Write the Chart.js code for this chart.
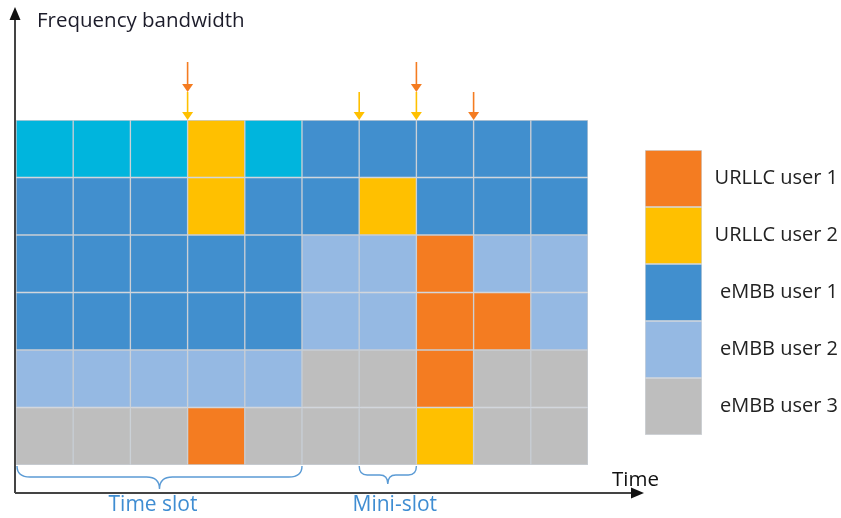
<!DOCTYPE html>
<html>
<head>
<meta charset="utf-8">
<script src="https://cdn.jsdelivr.net/npm/chart.js@4"></script>
<style>
  html, body { margin: 0; padding: 0; background: #fff; }
  #wrap { position: relative; width: 841px; height: 518px; overflow: hidden; }
  #grid { position: absolute; left: 0; top: 0; }
  #legend { position: absolute; left: 645px; top: 150px; }
</style>
</head>
<body>
<div id="wrap">
  <canvas id="grid" width="841" height="518"></canvas>
  <canvas id="legend" width="196" height="285"></canvas>
</div>
<script>
'use strict';

// ---------- data ----------
const columns = ['1', '2', '3', '4', '5', '6', '7', '8', '9', '10'];
// resource grid, top row first ('idle' = not yet assigned)
const row1 = ['idle', 'idle', 'idle', 'U2', 'idle', 'E1', 'E1', 'E1', 'E1', 'E1'];
const row2 = ['E1', 'E1', 'E1', 'U2', 'E1', 'E1', 'U2', 'E1', 'E1', 'E1'];
const row3 = ['E1', 'E1', 'E1', 'E1', 'E1', 'E2', 'E2', 'U1', 'E2', 'E2'];
const row4 = ['E1', 'E1', 'E1', 'E1', 'E1', 'E2', 'E2', 'U1', 'U1', 'E2'];
const row5 = ['E2', 'E2', 'E2', 'E2', 'E2', 'E3', 'E3', 'U1', 'E3', 'E3'];
const row6 = ['E3', 'E3', 'E3', 'U1', 'E3', 'E3', 'E3', 'U2', 'E3', 'E3'];
const rows = [row1, row2, row3, row4, row5, row6];

const userKeys = ['U1', 'U2', 'E1', 'E2', 'E3'];
const userNames = ['URLLC user 1', 'URLLC user 2', 'eMBB user 1', 'eMBB user 2', 'eMBB user 3'];

// arrival arrows at column boundaries
const arrowLowAt = [3, 6, 7, 8];
const arrowLowUser = ['U2', 'U2', 'U2', 'U1'];
const arrowHighAt = [3, 7];
const arrowHighUser = ['U1', 'U1'];

// braces: [first boundary, last boundary, label]
const timeSlot = [0, 5, 'Time slot'];
const miniSlot = [6, 7, 'Mini-slot'];

const COLORS = {
  U1: '#f47c21', U2: '#ffc000', E1: '#418fce', E2: '#95b9e3', E3: '#bebebe', idle: '#00b5dd',
};
const FONT = '"Open Sans", "Noto Sans", sans-serif';
const CELL_BORDER = '#c8ced5';

// ---------- decorations ----------
function arrowDown(ctx, x, y0, y1, color) {
  const hl = 8, hw = 5.5;
  ctx.strokeStyle = color; ctx.fillStyle = color; ctx.lineWidth = 1.6;
  ctx.beginPath(); ctx.moveTo(x, y0); ctx.lineTo(x, y1 - hl + 1); ctx.stroke();
  ctx.beginPath(); ctx.moveTo(x - hw, y1 - hl); ctx.lineTo(x + hw, y1 - hl); ctx.lineTo(x, y1); ctx.closePath(); ctx.fill();
}

function brace(ctx, x0, x1, yTop, mid, tip, r) {
  const xc = (x0 + x1) / 2;
  const ym = yTop + mid, yt = yTop + tip;
  ctx.beginPath();
  ctx.moveTo(x0, yTop);
  ctx.quadraticCurveTo(x0, ym, x0 + r, ym);
  ctx.lineTo(xc - r, ym);
  ctx.quadraticCurveTo(xc, ym, xc, yt);
  ctx.quadraticCurveTo(xc, ym, xc + r, ym);
  ctx.lineTo(x1 - r, ym);
  ctx.quadraticCurveTo(x1, ym, x1, yTop);
  ctx.stroke();
}

const decorations = {
  id: 'decorations',
  afterDraw(chart) {
    const { ctx } = chart;
    const x = chart.scales.x, y = chart.scales.y;
    const edge = (i) => x.left + i * (x.right - x.left) / columns.length;
    const top = y.getPixelForValue(rows.length);
    const bottom = y.getPixelForValue(0);
    ctx.save();

    // axes
    const ax = edge(0) - 1, ay = bottom + 28;
    ctx.strokeStyle = '#444'; ctx.fillStyle = '#111'; ctx.lineWidth = 2;
    ctx.beginPath(); ctx.moveTo(ax, ay); ctx.lineTo(ax, 18); ctx.stroke();
    ctx.beginPath(); ctx.moveTo(ax - 5.5, 20); ctx.lineTo(ax + 5.5, 20); ctx.lineTo(ax, 7); ctx.closePath(); ctx.fill();
    ctx.beginPath(); ctx.moveTo(ax, ay); ctx.lineTo(634, ay); ctx.stroke();
    ctx.beginPath(); ctx.moveTo(631, ay - 5.5); ctx.lineTo(631, ay + 5.5); ctx.lineTo(644, ay); ctx.closePath(); ctx.fill();

    ctx.fillStyle = '#1c1c2a';
    ctx.font = '20.5px ' + FONT;
    ctx.textBaseline = 'alphabetic'; ctx.textAlign = 'left';
    ctx.fillText('Frequency bandwidth', 37, 27);
    ctx.fillStyle = '#111';
    ctx.fillText('Time', 612, 486);

    // arrival arrows
    arrowLowAt.forEach((b, i) => arrowDown(ctx, edge(b), top - 28, top, COLORS[arrowLowUser[i]]));
    arrowHighAt.forEach((b, i) => arrowDown(ctx, edge(b), top - 58, top - 28, COLORS[arrowHighUser[i]]));

    // braces
    ctx.strokeStyle = '#5b9bd5'; ctx.lineWidth = 1.4;
    brace(ctx, edge(timeSlot[0]) + 1, edge(timeSlot[1]), bottom + 1, 11, 23, 13);
    brace(ctx, edge(miniSlot[0]), edge(miniSlot[1]), bottom + 1, 9, 18, 8);
    ctx.fillStyle = '#3f8dd2'; ctx.textAlign = 'center';
    ctx.font = '21px ' + FONT;
    ctx.fillText(timeSlot[2], (edge(timeSlot[0]) + edge(timeSlot[1])) / 2 - 6, 511);
    ctx.fillText(miniSlot[2], (edge(miniSlot[0]) + edge(miniSlot[1])) / 2 + 7, 511);
    ctx.restore();
  },
};

// ---------- grid chart ----------
// stacked bars, bottom row first
const datasets = rows.slice().reverse().map((r, i) => ({
  label: 'row ' + (rows.length - i),
  data: columns.map(() => 1),
  backgroundColor: r.map((k) => COLORS[k]),
  borderColor: CELL_BORDER,
  borderWidth: 1,
  borderSkipped: false,
  barPercentage: 1,
  categoryPercentage: 1,
}));

new Chart(document.getElementById('grid').getContext('2d'), {
  type: 'bar',
  data: { labels: columns, datasets },
  options: {
    responsive: false, animation: false, devicePixelRatio: 1,
    layout: { padding: { left: 16, right: 253, top: 120, bottom: 53 } },
    plugins: { legend: { display: false }, tooltip: { enabled: false } },
    scales: {
      x: { stacked: true, display: false },
      y: { stacked: true, display: false, min: 0, max: rows.length },
    },
  },
  plugins: [decorations],
});

// ---------- legend chart ----------
new Chart(document.getElementById('legend').getContext('2d'), {
  type: 'bar',
  data: {
    labels: userNames,
    datasets: [{
      data: userKeys.map(() => 1),
      backgroundColor: userKeys.map((k) => COLORS[k]),
      borderColor: '#d3d7dc', borderWidth: 1, borderSkipped: false,
      barPercentage: 1, categoryPercentage: 1,
    }],
  },
  options: {
    indexAxis: 'y',
    responsive: false, animation: false, devicePixelRatio: 1,
    layout: { padding: { left: 0, right: 3, top: 0, bottom: 0 } },
    plugins: { legend: { display: false }, tooltip: { enabled: false } },
    scales: {
      x: { display: false, min: 0, max: 1 },
      y: {
        position: 'right',
        grid: { display: false }, border: { display: false },
        afterFit: (s) => { s.width = 136; s.paddingTop = 0; s.paddingBottom = 0; },
        ticks: { color: '#222', font: { family: FONT, size: 20 }, crossAlign: 'far', padding: 0 },
      },
    },
  },
});
</script>
</body>
</html>
